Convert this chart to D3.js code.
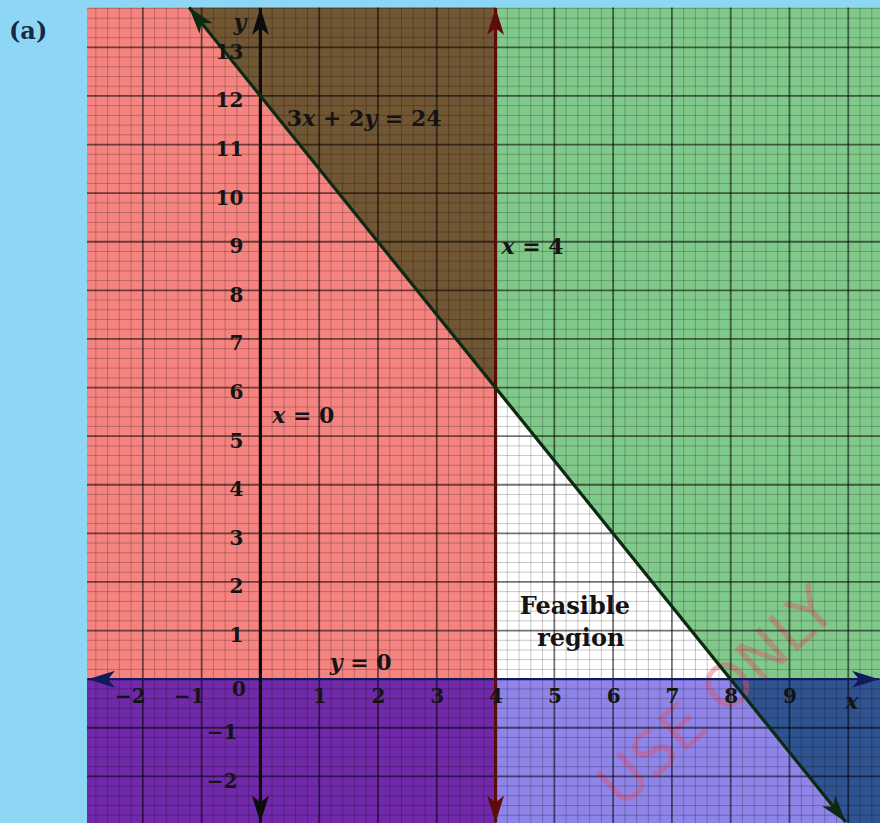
<!DOCTYPE html>
<html><head><meta charset="utf-8">
<script src="https://cdn.jsdelivr.net/npm/d3@7/dist/d3.min.js"></script>
<style>html,body{margin:0;padding:0;background:#8ed7f4;} svg{display:block}</style>
</head><body>
<svg id="chart" width="880" height="823"></svg>
<script>
// ---------- data ----------
const xDomain = [-2.95, 10.54];
const yDomain = [-2.96, 13.82];
const xTickValues = [-2, -1, 0, 1, 2, 3, 4, 5, 6, 7, 8, 9];
const xTickLabels = ["−2", "−1", "0", "1", "2", "3", "4", "5", "6", "7", "8", "9"];
const yTickValues = [-2, -1, 1, 2, 3, 4, 5, 6, 7, 8, 9, 10, 11, 12, 13];
const yTickLabels = ["−2", "−1", "1", "2", "3", "4", "5", "6", "7", "8", "9", "10", "11", "12", "13"];
// boundary lines a*x + b*y = c
const boundaryA = [1, 0, 3];
const boundaryB = [0, 1, 2];
const boundaryC = [4, 0, 24];
// regions: sign per boundary (-1 : less, +1 : greater, 0 : ignore)
const regionNames  = ["red", "brown", "green", "feasible", "purple", "lavender", "navy"];
const regionSigns  = [[-1, 1, -1], [-1, 0, 1], [1, 1, 1], [1, 1, -1], [-1, -1, 0], [1, -1, -1], [1, -1, 1]];
const regionColors = ["#f5837f", "#715634", "#80c98b", "#ffffff", "#7029a8", "#8f84e8", "#2f5390"];

// ---------- layout ----------
const svg = d3.select("#chart");
const x = d3.scaleLinear().domain(xDomain).range([87, 880]);
const y = d3.scaleLinear().domain(yDomain).range([823, 7.5]);

function clip(poly, a, b, c, s) {
  const f = p => s * (a * p[0] + b * p[1] - c);
  const out = [];
  for (let i = 0; i < poly.length; i++) {
    const P = poly[i], Q = poly[(i + 1) % poly.length];
    const fp = f(P), fq = f(Q);
    if (fp >= 0) out.push(P);
    if ((fp >= 0) !== (fq >= 0)) {
      const t = fp / (fp - fq);
      out.push([P[0] + t * (Q[0] - P[0]), P[1] + t * (Q[1] - P[1])]);
    }
  }
  return out;
}
const rect = [[xDomain[0], yDomain[0]], [xDomain[1], yDomain[0]], [xDomain[1], yDomain[1]], [xDomain[0], yDomain[1]]];

const gRegions = svg.append("g");
regionNames.forEach((name, i) => {
  let poly = rect;
  regionSigns[i].forEach((s, k) => { if (s !== 0) poly = clip(poly, boundaryA[k], boundaryB[k], boundaryC[k], s); });
  if (poly.length > 2)
    gRegions.append("path")
      .attr("d", d3.line().x(p => x(p[0])).y(p => y(p[1]))(poly) + "Z")
      .attr("fill", regionColors[i]);
});

// ---------- watermark ----------
svg.append("text")
  .attr("transform", `translate(${x(7.75)},${y(-0.35)}) rotate(-42)`)
  .attr("text-anchor", "middle").attr("dominant-baseline", "central")
  .attr("font-family", "DejaVu Sans").attr("font-size", 60)
  .attr("fill", "#e4506a").attr("opacity", 0.42)
  .text("USE ONLY");

// ---------- grid ----------
const gGrid = svg.append("g");
const minorX = d3.range(Math.ceil(xDomain[0] * 5), Math.floor(xDomain[1] * 5) + 1).map(i => i / 5).filter(v => Math.abs(v - Math.round(v)) > 1e-6);
const minorY = d3.range(Math.ceil(yDomain[0] * 5), Math.floor(yDomain[1] * 5) + 1).map(i => i / 5).filter(v => Math.abs(v - Math.round(v)) > 1e-6);
const majorX = d3.range(Math.ceil(xDomain[0]), Math.floor(xDomain[1]) + 1);
const majorY = d3.range(Math.ceil(yDomain[0]), Math.floor(yDomain[1]) + 1);
gGrid.selectAll(".mx").data(minorX).join("line")
  .attr("x1", d => x(d)).attr("x2", d => x(d)).attr("y1", y.range()[0]).attr("y2", y.range()[1])
  .attr("stroke", "#000").attr("stroke-opacity", 0.22).attr("stroke-width", 1);
gGrid.selectAll(".my").data(minorY).join("line")
  .attr("y1", d => y(d)).attr("y2", d => y(d)).attr("x1", x.range()[0]).attr("x2", x.range()[1])
  .attr("stroke", "#000").attr("stroke-opacity", 0.22).attr("stroke-width", 1);
gGrid.selectAll(".Mx").data(majorX).join("line")
  .attr("x1", d => x(d)).attr("x2", d => x(d)).attr("y1", y.range()[0]).attr("y2", y.range()[1])
  .attr("stroke", "#000").attr("stroke-opacity", 0.55).attr("stroke-width", 1.8);
gGrid.selectAll(".My").data(majorY).join("line")
  .attr("y1", d => y(d)).attr("y2", d => y(d)).attr("x1", x.range()[0]).attr("x2", x.range()[1])
  .attr("stroke", "#000").attr("stroke-opacity", 0.55).attr("stroke-width", 1.8);

// ---------- boundary lines with arrows ----------
function arrowHead(g, tip, from, color) {
  const ang = Math.atan2(tip[1] - from[1], tip[0] - from[0]) * 180 / Math.PI;
  g.append("path")
    .attr("d", "M0,0 L-27,-8.5 L-20,0 L-27,8.5 Z")
    .attr("transform", `translate(${tip[0]},${tip[1]}) rotate(${ang})`)
    .attr("fill", color);
}
function drawLine(p1, p2, color, w) {
  const g = svg.append("g");
  g.append("line").attr("x1", p1[0]).attr("y1", p1[1]).attr("x2", p2[0]).attr("y2", p2[1])
    .attr("stroke", color).attr("stroke-width", w);
  arrowHead(g, p1, p2, color);
  arrowHead(g, p2, p1, color);
}
drawLine([x(xDomain[0]) + 1, y(0)], [x(xDomain[1]) - 1, y(0)], "#121a5e", 2.4);
drawLine([x(0), y(yDomain[1]) + 0.5], [x(0), y(yDomain[0]) - 0.5], "#0c0c0c", 3.2);
drawLine([x(boundaryC[0]), y(yDomain[1]) + 0.5], [x(boundaryC[0]), y(yDomain[0]) - 0.5], "#5e0b0b", 3.2);
const lx1 = (boundaryC[2] - boundaryB[2] * yDomain[1]) / boundaryA[2];
const lx2 = (boundaryC[2] - boundaryB[2] * yDomain[0]) / boundaryA[2];
drawLine([x(lx1), y(yDomain[1])], [x(lx2) - 1, y(yDomain[0]) - 1], "#0c2a12", 3.2);

// ---------- tick labels through d3 axes ----------
const serif = "DejaVu Serif";
const ink = "#141414";
const xAx = svg.append("g").attr("transform", `translate(0,${y(0)})`)
  .call(d3.axisBottom(x).tickValues(xTickValues).tickFormat((d, i) => xTickLabels[i]).tickSize(0).tickPadding(15));
xAx.select(".domain").remove();
xAx.selectAll("text").attr("font-family", serif).attr("font-weight", "bold").attr("font-size", 20).attr("fill", ink)
  .attr("dx", d => d < 0 ? -13 : (d === 0 ? -22 : 0))
  .attr("dy", d => d === 0 ? "0.1em" : "0.45em");

const yAx = svg.append("g").attr("transform", `translate(${x(0)},0)`)
  .call(d3.axisLeft(y).tickValues(yTickValues).tickFormat((d, i) => yTickLabels[i]).tickSize(0).tickPadding(17));
yAx.select(".domain").remove();
yAx.selectAll("text").attr("font-family", serif).attr("font-weight", "bold").attr("font-size", 20).attr("fill", ink)
  .attr("dx", d => d < 0 ? -6 : 0)
  .attr("dy", "0.55em");

// axis names
svg.append("text").attr("x", x(0) - 27).attr("y", 30).attr("font-family", serif).attr("font-style", "italic")
  .attr("font-weight", "bold").attr("font-size", 22).attr("fill", ink).text("y");
svg.append("text").attr("x", x(9.95)).attr("y", y(0) + 30).attr("font-family", serif).attr("font-style", "italic")
  .attr("font-weight", "bold").attr("font-size", 22).attr("fill", ink).text("x");

// ---------- annotations ----------
function mathLabel(xv, yv, parts, size) {
  const t = svg.append("text").attr("x", x(xv)).attr("y", y(yv)).attr("dy", "0.36em")
    .attr("font-family", serif).attr("font-weight", "bold").attr("font-size", size).attr("fill", ink);
  parts.forEach(p => t.append("tspan").attr("font-style", p[1] ? "italic" : "normal").text(p[0]));
}
mathLabel(0.45, 11.55, [["3", 0], ["x", 1], [" + 2", 0], ["y", 1], [" = 24", 0]], 22);
mathLabel(4.1, 8.91, [["x", 1], [" = 4", 0]], 22);
mathLabel(0.2, 5.43, [["x", 1], [" = 0", 0]], 22);
mathLabel(1.18, 0.35, [["y", 1], [" = 0", 0]], 22);

svg.append("text").attr("x", x(5.35)).attr("y", y(1.52)).attr("dy", "0.36em").attr("text-anchor", "middle")
  .attr("font-family", serif).attr("font-weight", "bold").attr("font-size", 24).attr("fill", ink).text("Feasible");
svg.append("text").attr("x", x(5.45)).attr("y", y(0.87)).attr("dy", "0.36em").attr("text-anchor", "middle")
  .attr("font-family", serif).attr("font-weight", "bold").attr("font-size", 24).attr("fill", ink).text("region");

// panel label
svg.append("text").attr("x", 9).attr("y", 39).attr("font-family", serif).attr("font-weight", "bold")
  .attr("font-size", 24).attr("fill", "#1a2748").text("(a)");
</script>
</body></html>
